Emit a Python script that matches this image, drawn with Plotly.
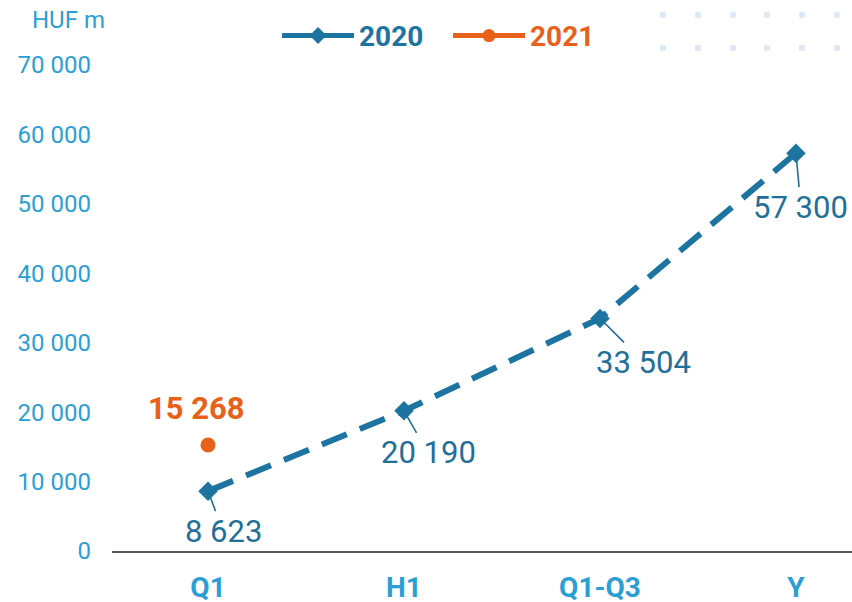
import plotly.graph_objects as go

# Cumulative figures, HUF million
periods = ["Q1", "H1", "Q1-Q3", "Y"]
values_2020 = [8623, 20190, 33504, 57300]
values_2021 = [15268]
periods_2021 = ["Q1"]

# label offsets (pixels) for the 2020 value callouts
label_dx = [15, 24, 44, 5]
label_dy = [40, 42, 44, 54]

BLUE = "#1d74a0"
LABEL_BLUE = "#1f6f99"
TICK_BLUE = "#2a9fd6"
ORANGE = "#e8611a"
FONT = "Roboto"


def fmt(v):
    return f"{v:,}".replace(",", " ")


fig = go.Figure()

# data traces
fig.add_trace(go.Scatter(
    x=periods, y=values_2020, mode="lines+markers", showlegend=False,
    line=dict(color=BLUE, width=6, dash="27px,14px"),
    marker=dict(symbol="diamond", size=15, color=BLUE),
))
fig.add_trace(go.Scatter(
    x=periods_2021, y=values_2021, mode="markers", showlegend=False,
    marker=dict(symbol="circle", size=15, color=ORANGE),
))

# legend entries (solid key lines)
fig.add_trace(go.Scatter(
    x=[None], y=[None], mode="lines+markers",
    name=f"<span style='color:{BLUE}'><b>2020</b></span>",
    line=dict(color=BLUE, width=5), marker=dict(symbol="diamond", size=13, color=BLUE),
))
fig.add_trace(go.Scatter(
    x=[None], y=[None], mode="lines+markers",
    name=f"<span style='color:{ORANGE}'><b>2021</b></span>",
    line=dict(color=ORANGE, width=5), marker=dict(symbol="circle", size=13, color=ORANGE),
))

annotations = []
for p, v, dx, dy in zip(periods, values_2020, label_dx, label_dy):
    annotations.append(dict(
        x=p, y=v, xref="x", yref="y", text=fmt(v),
        showarrow=True, arrowhead=0, arrowwidth=1.6, arrowcolor=LABEL_BLUE,
        ax=dx, ay=dy, standoff=2,
        font=dict(family=FONT, size=31, color=LABEL_BLUE),
    ))
for p, v in zip(periods_2021, values_2021):
    annotations.append(dict(
        x=p, y=v, xref="x", yref="y", text=f"<b>{fmt(v)}</b>",
        showarrow=False, xshift=-12, yshift=37,
        font=dict(family=FONT, size=31, color=ORANGE),
    ))
annotations.append(dict(
    x=-0.111, y=1.093, xref="paper", yref="paper", xanchor="left", yanchor="middle",
    text="HUF m", showarrow=False,
    font=dict(family=FONT, size=24, color=TICK_BLUE),
))

# decorative dot grid in the top-right corner
dot_x = [663, 698, 733, 767, 802, 837]
dot_y = [15, 48]
shapes = []
for py in dot_y:
    for px in dot_x:
        shapes.append(dict(
            type="circle", xref="paper", yref="paper",
            xsizemode="pixel", ysizemode="pixel",
            xanchor=(px - 112) / 740, yanchor=(551 - py) / 486,
            x0=-3.2, x1=3.2, y0=-3.2, y1=3.2,
            fillcolor="#dde9f5", line=dict(width=0),
        ))

fig.update_layout(
    width=852, height=602,
    margin=dict(l=112, r=0, t=65, b=51, autoexpand=False),
    paper_bgcolor="white", plot_bgcolor="white",
    separators=", ",
    font=dict(family=FONT),
    showlegend=True,
    legend=dict(
        orientation="h", x=0.2230, y=1.06, xanchor="left", yanchor="middle",
        font=dict(family=FONT, size=28), itemwidth=72, tracegroupgap=0,
        entrywidth=84, entrywidthmode="pixels",
        bgcolor="rgba(0,0,0,0)",
    ),
    annotations=annotations,
    shapes=shapes,
    xaxis=dict(
        type="category", range=[-0.49, 3.286], automargin=False,
        showgrid=False, zeroline=False,
        showline=True, linecolor="#555555", linewidth=2,
        ticks="", ticklabelstandoff=10,
        tickfont=dict(family=FONT, size=28, color=TICK_BLUE, weight="bold"),
    ),
    yaxis=dict(
        range=[0, 70000], tickvals=[0, 10000, 20000, 30000, 40000, 50000, 60000, 70000],
        tickformat=",d", showgrid=False, zeroline=False, showline=False,
        ticks="", ticklabelstandoff=20, automargin=False,
        tickfont=dict(family=FONT, size=24, color=TICK_BLUE),
    ),
)

fig.write_html("out.html")
